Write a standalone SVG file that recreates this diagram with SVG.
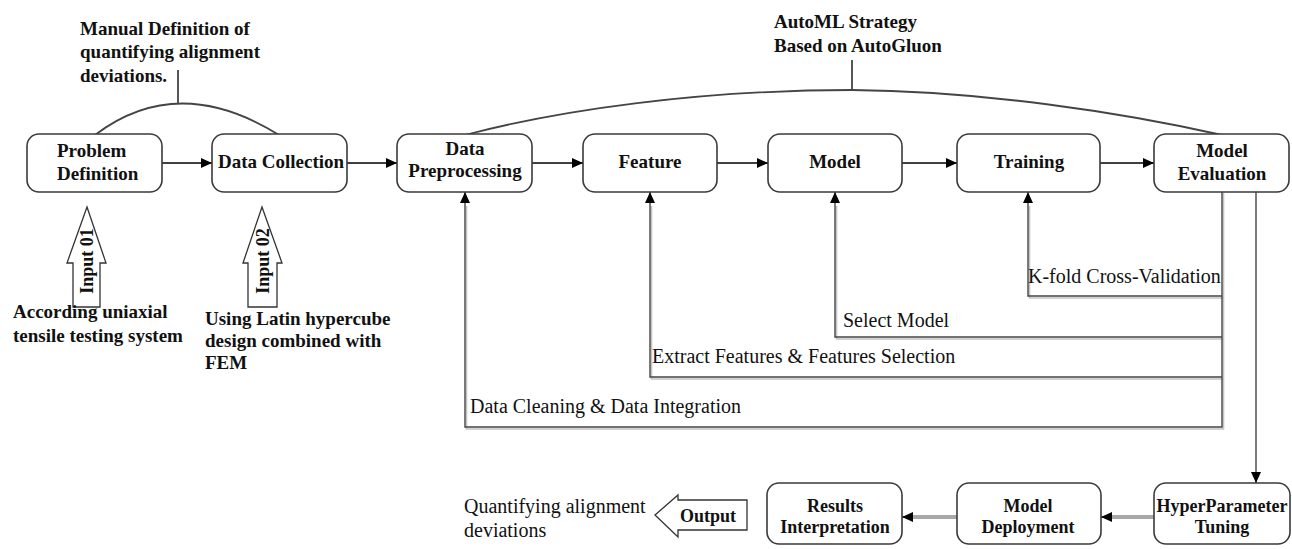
<svg xmlns="http://www.w3.org/2000/svg" width="1292" height="549" viewBox="0 0 1292 549">
<defs>
<marker id="ah" markerUnits="userSpaceOnUse" markerWidth="11" markerHeight="10" refX="11" refY="5" orient="auto"><path d="M0,0 L11,5 L0,10 z" fill="#000"/></marker>
<style>
.box{fill:#fff;stroke:#3a3a3a;stroke-width:1.6}
.t{font-family:"Liberation Serif",serif;font-weight:bold;font-size:19px;fill:#111}
.t18{font-family:"Liberation Serif",serif;font-weight:bold;font-size:18px;fill:#111}
.lab{font-family:"Liberation Serif",serif;font-size:20px;fill:#111}
.c{text-anchor:middle}
.fl{fill:none;stroke:#444;stroke-width:1.4}
.fb{fill:none;stroke:#c4c4c4;stroke-width:1.6}
.ar{fill:none;stroke:#000;stroke-width:1.3}
.gr{fill:none;stroke:#a8a8a8;stroke-width:4}
.arc{fill:none;stroke:#444;stroke-width:1.8}
.blk{fill:#fff;stroke:#333;stroke-width:1.3}
</style>
</defs>
<rect width="1292" height="549" fill="#fff"/>

<g id="annotations">
<path class="arc" d="M95,135 Q178,72 279,135"/>
<line class="arc" x1="178" y1="103" x2="178" y2="70"/>
<text class="t" x="80" y="35">Manual Definition of</text>
<text class="t" x="80" y="58">quantifying alignment</text>
<text class="t" x="80" y="82">deviations.</text>
<path class="arc" d="M465,135 C560,110 700,90 852,90 C980,91 1120,112 1222,135"/>
<line class="arc" x1="852" y1="90" x2="852" y2="60"/>
<text class="t" x="774" y="28">AutoML Strategy</text>
<text class="t" x="774" y="52">Based on AutoGluon</text>
</g>

<g id="connectors">
<line class="ar" x1="162" y1="163" x2="212" y2="163" marker-end="url(#ah)"/>
<line class="ar" x1="347" y1="163" x2="397" y2="163" marker-end="url(#ah)"/>
<line class="ar" x1="532" y1="163" x2="583" y2="163" marker-end="url(#ah)"/>
<line class="ar" x1="717" y1="163" x2="768" y2="163" marker-end="url(#ah)"/>
<line class="ar" x1="902" y1="163" x2="957" y2="163" marker-end="url(#ah)"/>
<line class="ar" x1="1100" y1="163" x2="1154" y2="163" marker-end="url(#ah)"/>
<path class="fb" d="M1223.5,193 V429 H466.5 V206"/>
<path class="fb" d="M1223.5,379 H651.5 V206"/>
<path class="fb" d="M1223.5,339 H836.5 V206"/>
<path class="fb" d="M1223.5,298 H1029.5 V206"/>
<path class="fl" d="M1222,192 V427 H465 V192" marker-end="url(#ah)"/>
<path class="fl" d="M1222,377 H650 V192" marker-end="url(#ah)"/>
<path class="fl" d="M1222,337 H835 V192" marker-end="url(#ah)"/>
<path class="fl" d="M1222,296 H1028 V192" marker-end="url(#ah)"/>
<path class="fl" d="M1256,192 V483" marker-end="url(#ah)"/>
<line class="gr" x1="1154" y1="517" x2="1112" y2="517"/>
<line class="ar" x1="1112" y1="517" x2="1101" y2="517" marker-end="url(#ah)"/>
<line class="gr" x1="957" y1="517" x2="913" y2="517"/>
<line class="ar" x1="913" y1="517" x2="902" y2="517" marker-end="url(#ah)"/>
<text class="lab" x="1028" y="283">K-fold Cross-Validation</text>
<text class="lab" x="843" y="327">Select Model</text>
<text class="lab" x="652" y="363">Extract Features &amp; Features Selection</text>
<text class="lab" x="470" y="413">Data Cleaning &amp; Data Integration</text>
</g>

<g id="problem-definition">
<rect class="box" x="27" y="134" width="135" height="58" rx="12"/>
<text class="t" x="57" y="157">Problem</text>
<text class="t" x="57" y="180">Definition</text>
</g>
<g id="data-collection">
<rect class="box" x="212" y="134" width="135" height="58" rx="12"/>
<text class="t c" x="281" y="168">Data Collection</text>
</g>
<g id="data-preprocessing">
<rect class="box" x="397" y="134" width="135" height="58" rx="12"/>
<text class="t c" x="465" y="155">Data</text>
<text class="t c" x="465" y="177">Preprocessing</text>
</g>
<g id="feature">
<rect class="box" x="583" y="134" width="134" height="58" rx="12"/>
<text class="t c" x="650" y="168">Feature</text>
</g>
<g id="model">
<rect class="box" x="768" y="134" width="134" height="58" rx="12"/>
<text class="t c" x="835" y="168">Model</text>
</g>
<g id="training">
<rect class="box" x="957" y="134" width="143" height="58" rx="12"/>
<text class="t c" x="1029" y="168">Training</text>
</g>
<g id="model-evaluation">
<rect class="box" x="1154" y="134" width="135" height="58" rx="12"/>
<text class="t c" x="1222" y="157">Model</text>
<text class="t c" x="1222" y="180">Evaluation</text>
</g>

<g id="input-01">
<polygon class="blk" points="87,207 106,263 100,263 100,307 73,307 73,263 67,263"/>
<text class="t18 c" transform="translate(93,261) rotate(-90)">Input 01</text>
<text class="t" x="13" y="318">According uniaxial</text>
<text class="t" x="13" y="342">tensile testing system</text>
</g>
<g id="input-02">
<polygon class="blk" points="262,207 282,263 277,263 277,307 248,307 248,263 243,263"/>
<text class="t18 c" transform="translate(269,261) rotate(-90)">Input 02</text>
<text class="t" x="205" y="325">Using Latin hypercube</text>
<text class="t" x="205" y="347">design combined with</text>
<text class="t" x="205" y="369">FEM</text>
</g>

<g id="hyperparameter-tuning">
<rect class="box" x="1154" y="483" width="136" height="61" rx="12"/>
<text class="t18 c" x="1222" y="512">HyperParameter</text>
<text class="t18 c" x="1222" y="533">Tuning</text>
</g>
<g id="model-deployment">
<rect class="box" x="957" y="483" width="144" height="61" rx="12"/>
<text class="t18 c" x="1028" y="512">Model</text>
<text class="t18 c" x="1028" y="533">Deployment</text>
</g>
<g id="results-interpretation">
<rect class="box" x="767" y="483" width="135" height="61" rx="12"/>
<text class="t18 c" x="835" y="512">Results</text>
<text class="t18 c" x="835" y="533">Interpretation</text>
</g>
<g id="output">
<polygon class="blk" points="655,515 678,495 678,500 747,500 747,530 678,530 678,537"/>
<text class="t18 c" x="708" y="522">Output</text>
<text class="lab" x="464" y="513">Quantifying alignment</text>
<text class="lab" x="464" y="537">deviations</text>
</g>
</svg>
